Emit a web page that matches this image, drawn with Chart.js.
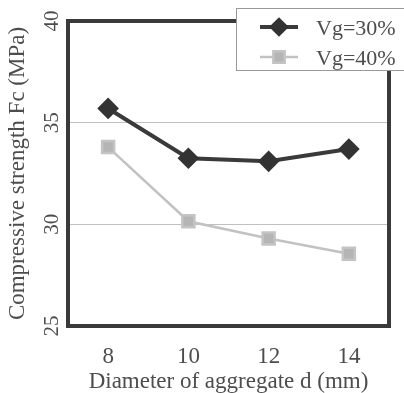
<!DOCTYPE html>
<html>
<head>
<meta charset="utf-8">
<script src="https://cdn.jsdelivr.net/npm/chart.js@4/dist/chart.umd.min.js"></script>
<style>
  html, body { margin: 0; padding: 0; background: #fff; }
  canvas { display: block; }
</style>
</head>
<body>
<canvas id="chart" width="404" height="393"></canvas>
<script>
const diameters = ["8", "10", "12", "14"];
const vg30 = [35.7, 33.25, 33.1, 33.7];
const vg40 = [33.8, 30.15, 29.3, 28.55];
const yTicks = [25, 30, 35, 40];

const textColor = "#4d4d4d";
const serif = "'Liberation Serif', 'DejaVu Serif', serif";

// heavy frame round the plot, y labels turned on their side, boxed legend
const framePlugin = {
   id: "frame",
   afterDraw(chart) {
      const { ctx, chartArea: a } = chart;
      const y = chart.scales.y;
      ctx.save();
      ctx.strokeStyle = "#3a3a3a";
      ctx.lineWidth = 4;
      ctx.strokeRect(a.left, a.top, a.right - a.left, a.bottom - a.top);

      ctx.fillStyle = textColor;
      ctx.font = "21px " + serif;
      ctx.textAlign = "center";
      ctx.textBaseline = "middle";
      for (const t of yTicks) {
         ctx.save();
         ctx.translate(a.left - 16, y.getPixelForValue(t));
         ctx.rotate(-Math.PI / 2);
         ctx.fillText(String(t), 0, 0);
         ctx.restore();
      }

      // legend
      ctx.fillStyle = "#fff";
      ctx.fillRect(236, 8, 175, 62);
      ctx.strokeStyle = "#999";
      ctx.lineWidth = 1;
      ctx.strokeRect(236.5, 8.5, 175, 62);
      const rows = [27, 57];
      const legendRadius = [7, 8];
      chart.data.datasets.forEach((ds, i) => {
         const ly = rows[i];
         ctx.strokeStyle = ds.borderColor;
         ctx.lineWidth = ds.borderWidth;
         ctx.beginPath();
         ctx.moveTo(260, ly);
         ctx.lineTo(298, ly);
         ctx.stroke();
         ctx.fillStyle = ds.pointBackgroundColor;
         ctx.strokeStyle = ds.pointBorderColor;
         Chart.helpers.drawPoint(ctx, {
            pointStyle: ds.pointStyle,
            radius: legendRadius[i],
            borderWidth: 1,
         }, 279, ly);
         ctx.fillStyle = textColor;
         ctx.font = "22px " + serif;
         ctx.textAlign = "left";
         ctx.fillText(ds.label, 316, ly + 2);
      });
      ctx.restore();
   },
};

new Chart(document.getElementById("chart"), {
   type: "line",
   data: {
      labels: diameters,
      datasets: [
         {
            label: "Vg=30%",
            data: vg30,
            borderColor: "#3a3a3a",
            borderWidth: 4,
            pointStyle: "rectRot",
            pointRadius: 8,
            pointBackgroundColor: "#333",
            pointBorderColor: "#333",
            tension: 0,
         },
         {
            label: "Vg=40%",
            data: vg40,
            borderColor: "#c2c2c2",
            borderWidth: 2.5,
            pointStyle: "rect",
            pointRadius: 8.5,
            pointBackgroundColor: "#b5b5b5",
            pointBorderColor: "#c4c4c4",
            tension: 0,
         },
      ],
   },
   options: {
      responsive: false,
      animation: false,
      layout: { padding: { left: 6, right: 15, top: 21, bottom: 0 } },
      plugins: { legend: { display: false }, tooltip: { enabled: false } },
      scales: {
         x: {
            offset: true,
            grid: { display: false },
            border: { display: false },
            ticks: { color: textColor, font: { family: serif, size: 23 }, padding: 9 },
            title: {
               display: true,
               text: "Diameter of aggregate d (mm)",
               color: textColor,
               font: { family: serif, size: 23, lineHeight: 1 },
               padding: { top: 0, bottom: 0 },
            },
            afterFit(scale) { scale.height = 67; },
         },
         y: {
            min: 25,
            max: 40,
            afterBuildTicks(scale) { scale.ticks = yTicks.map(v => ({ value: v })); },
            grid: {
               color: ctx => (ctx.tick && (ctx.tick.value === 30 || ctx.tick.value === 35)) ? "#c0c0c0" : "transparent",
               lineWidth: 1,
               drawTicks: false,
            },
            border: { display: false },
            ticks: { display: false },
            title: {
               display: true,
               text: "Compressive strength Fc (MPa)",
               color: textColor,
               font: { family: serif, size: 23, lineHeight: 1 },
               padding: { top: 0, bottom: 0 },
            },
            afterFit(scale) { scale.width = 62; },
         },
      },
   },
   plugins: [framePlugin],
});
</script>
</body>
</html>
